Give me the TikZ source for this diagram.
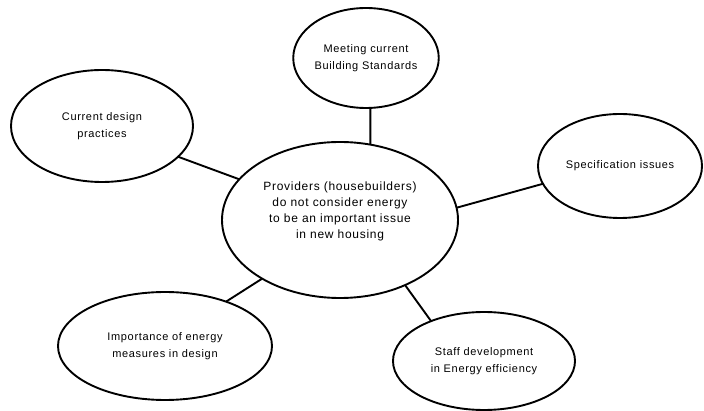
\documentclass[tikz,border=0pt]{standalone}
\usepackage{fontspec}
\setmainfont{Liberation Sans}
\newfontfamily\spaced[LetterSpace=6]{Liberation Sans}
\usetikzlibrary{shapes.geometric}

\begin{document}
\begin{tikzpicture}[x=1pt,y=-1pt,
    bubble/.style={draw,line width=1.9pt,ellipse,inner sep=0pt,outer sep=0pt,align=center,
      font=\spaced\fontsize{11}{17}\selectfont},
    spoke/.style={line width=1.9pt}]
    \useasboundingbox (0,0) rectangle (704,411);
    \node[bubble,minimum width=236,minimum height=156,font=\spaced\fontsize{12}{16}\selectfont]
      (hub) at (340,220) {Providers (housebuilders)\\do not consider energy\\to be an important issue\\in new housing\\[4pt]}; %hub
    \node[bubble,minimum width=138,minimum height=100] (meet) at (366,58) {Meeting current\\Building Standards}; %top
    \node[bubble,minimum width=182,minimum height=112] (practice) at (102,126) {Current design\\practices}; %left
    \node[bubble,minimum width=164,minimum height=104] (spec) at (620,166) {Specification issues}; %right
    \node[bubble,minimum width=214,minimum height=108] (measures) at (165,346) {Importance of energy\\measures in design}; %lowleft
    \node[bubble,minimum width=182,minimum height=98] (staff) at (484,361) {Staff development\\in Energy efficiency}; %lowright
    \draw[spoke] (hub.68.5) -- (meet.-85.4);
    \draw[spoke] (hub.158.8) -- (practice.-22.2);
    \draw[spoke] (hub.6.8) -- (spec.193.4);
    \draw[spoke] (hub.217.8) -- (measures.36.6);
    \draw[spoke] (hub.-45.9) -- (staff.143.8);
  \end{tikzpicture}
\end{document}
